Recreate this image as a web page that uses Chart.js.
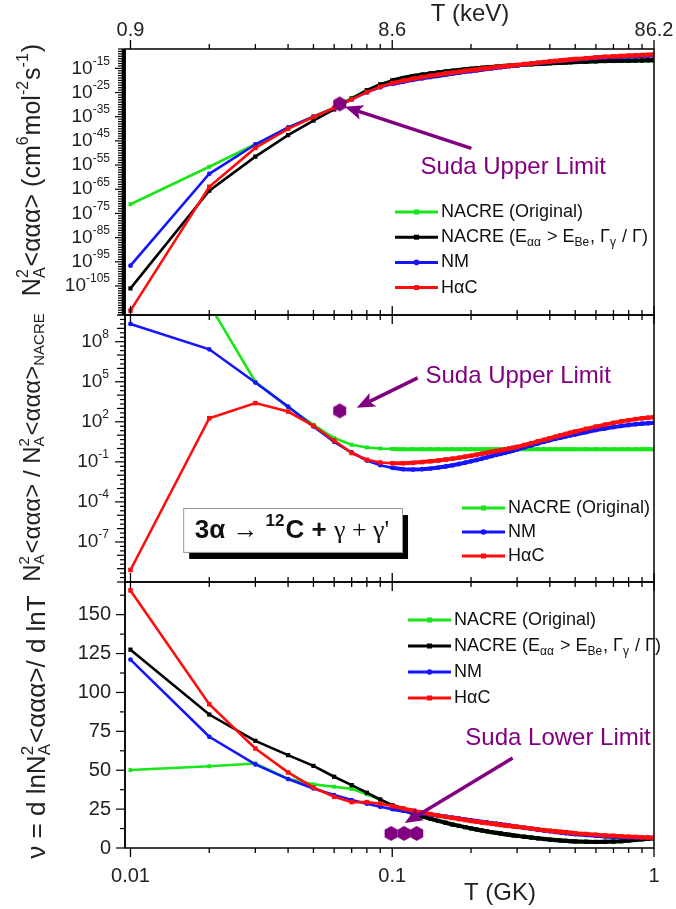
<!DOCTYPE html>
<html lang="en">
<head>
<meta charset="UTF-8">
<title>Triple-alpha rate</title>
<script src="https://cdn.jsdelivr.net/npm/chart.js@4.4.1/dist/chart.umd.min.js"></script>
<style>
  html, body { margin: 0; padding: 0; background: #fff; }
  #wrap { position: relative; width: 676px; height: 909px; }
  #wrap canvas { position: absolute; left: 0; top: 0; }
</style>
</head>
<body>
<div id="wrap">
  <canvas id="rateChart" width="676" height="909"></canvas>
  <canvas id="ratioChart" width="676" height="909"></canvas>
  <canvas id="nuChart" width="676" height="909"></canvas>
</div>
<script>
// temperature grid, T9 (GK)
const temps = [
  0.01, 0.02, 0.03, 0.04, 0.05, 0.06, 0.07, 0.08, 0.09, 0.10,
  0.11, 0.12, 0.13, 0.14, 0.15, 0.16, 0.17, 0.18, 0.19, 0.20,
  0.21, 0.22, 0.23, 0.24, 0.25, 0.26, 0.27, 0.28, 0.29, 0.30,
  0.32, 0.34, 0.36, 0.38, 0.40, 0.42, 0.44, 0.46, 0.48, 0.50,
  0.55, 0.60, 0.65, 0.70, 0.75, 0.80, 0.85, 0.90, 0.95, 1.00
];

// top panel: log10 of N_A^2<aaa> (cm^6 mol^-2 s^-1)
const rateNacreExp = [
  -71.2, -55.7, -46.4, -39.6, -34.9, -31.3, -27.2, -23.9, -21.6, -20.0,
  -19.0, -18.2, -17.6, -17.1, -16.7, -16.3, -16.0, -15.7, -15.4, -15.2,
  -15.0, -14.8, -14.6, -14.45, -14.3, -14.15, -14.0, -13.9, -13.8, -13.7,
  -13.5, -13.35, -13.2, -13.05, -12.9, -12.8, -12.7, -12.6, -12.5, -12.4,
  -12.25, -12.1, -12.0, -11.95, -11.9, -11.85, -11.8, -11.75, -11.7, -11.65
];
const rateNacreModExp = [
  -106.0, -65.6, -51.5, -42.6, -36.6, -32.0, -27.5, -24.0, -21.6, -20.0,
  -19.0, -18.2, -17.6, -17.1, -16.7, -16.3, -16.0, -15.7, -15.4, -15.2,
  -15.0, -14.8, -14.6, -14.45, -14.3, -14.15, -14.0, -13.9, -13.8, -13.7,
  -13.5, -13.35, -13.2, -13.05, -12.9, -12.8, -12.7, -12.6, -12.5, -12.4,
  -12.25, -12.1, -12.0, -11.95, -11.9, -11.85, -11.8, -11.75, -11.7, -11.65
];
const rateNmExp = [
  -96.6, -58.6, -46.5, -39.46, -34.95, -31.5, -27.8, -24.9, -22.85, -21.45,
  -20.55, -19.78, -19.15, -18.6, -18.13, -17.65, -17.26, -16.86, -16.46, -16.16,
  -15.86, -15.56, -15.26, -15.02, -14.78, -14.55, -14.32, -14.14, -13.96, -13.78,
  -13.42, -13.12, -12.83, -12.55, -12.28, -12.08, -11.89, -11.7, -11.52, -11.35,
  -11.03, -10.72, -10.5, -10.35, -10.21, -10.09, -9.99, -9.89, -9.81, -9.73
];
const rateHacExp = [
  -115.2, -64.0, -47.9, -40.0, -35.1, -31.4, -27.84, -24.84, -22.65, -21.1,
  -20.1, -19.27, -18.62, -18.06, -17.6, -17.13, -16.76, -16.39, -16.01, -15.74,
  -15.46, -15.19, -14.92, -14.7, -14.48, -14.27, -14.06, -13.9, -13.74, -13.58,
  -13.24, -12.95, -12.67, -12.4, -12.13, -11.92, -11.71, -11.51, -11.32, -11.13,
  -10.78, -10.46, -10.21, -10.03, -9.87, -9.73, -9.6, -9.49, -9.39, -9.3
];

// middle panel: log10 of the ratio to the NACRE rate
const ratioNacreExp = [
  34.8, 10.8, 5.0, 3.1, 1.78, 0.78, 0.28, 0.08, 0.0, -0.03,
  -0.05, -0.05, -0.05, -0.05, -0.05, -0.05, -0.05, -0.05, -0.05, -0.05,
  -0.05, -0.05, -0.05, -0.05, -0.05, -0.05, -0.05, -0.05, -0.05, -0.05,
  -0.05, -0.05, -0.05, -0.05, -0.05, -0.05, -0.05, -0.05, -0.05, -0.05,
  -0.05, -0.05, -0.05, -0.05, -0.05, -0.05, -0.05, -0.05, -0.05, -0.05
];
const ratioNmExp = [
  9.33, 7.43, 4.94, 3.14, 1.65, 0.5, -0.3, -0.9, -1.25, -1.45,
  -1.55, -1.58, -1.55, -1.5, -1.43, -1.35, -1.26, -1.16, -1.06, -0.96,
  -0.86, -0.76, -0.66, -0.57, -0.48, -0.4, -0.32, -0.24, -0.16, -0.08,
  0.08, 0.23, 0.37, 0.5, 0.62, 0.72, 0.81, 0.9, 0.98, 1.05,
  1.22, 1.38, 1.5, 1.6, 1.69, 1.76, 1.81, 1.86, 1.89, 1.92
];
const ratioHacExp = [
  -9.1, 2.27, 3.4, 2.77, 1.7, 0.6, -0.34, -0.84, -1.05, -1.1,
  -1.1, -1.07, -1.02, -0.96, -0.9, -0.83, -0.76, -0.69, -0.61, -0.54,
  -0.46, -0.39, -0.32, -0.25, -0.18, -0.12, -0.06, 0.0, 0.06, 0.12,
  0.26, 0.4, 0.53, 0.65, 0.77, 0.88, 0.99, 1.09, 1.18, 1.27,
  1.47, 1.64, 1.79, 1.92, 2.03, 2.12, 2.2, 2.26, 2.31, 2.35
];

// bottom panel: nu = d ln rate / d ln T
const nuNacre = [
  50.1, 52.6, 54.3, 44.5, 40.9, 39.4, 38.0, 34.5, 31.0, 27.5,
  24.6, 22.2, 20.3, 18.8, 17.4, 16.2, 15.1, 14.2, 13.4, 12.6,
  11.9, 11.3, 10.7, 10.2, 9.7, 9.3, 8.9, 8.5, 8.1, 7.8,
  7.2, 6.7, 6.2, 5.8, 5.4, 5.1, 4.8, 4.6, 4.4, 4.25,
  4.0, 3.9, 3.95, 4.1, 4.4, 4.8, 5.2, 5.6, 5.9, 6.2
];
const nuNacreMod = [
  127.5, 85.8, 68.9, 59.7, 52.8, 45.8, 40.4, 35.5, 31.2, 27.5,
  24.6, 22.2, 20.3, 18.8, 17.4, 16.2, 15.1, 14.2, 13.4, 12.6,
  11.9, 11.3, 10.7, 10.2, 9.7, 9.3, 8.9, 8.5, 8.1, 7.8,
  7.2, 6.7, 6.2, 5.8, 5.4, 5.1, 4.8, 4.6, 4.4, 4.25,
  4.0, 3.9, 3.95, 4.1, 4.4, 4.8, 5.2, 5.6, 5.9, 6.2
];
const nuNm = [
  121.1, 71.5, 53.7, 44.3, 38.3, 34.0, 30.8, 28.5, 26.5, 25.0,
  24.0, 23.0, 22.2, 21.5, 20.8, 20.1, 19.5, 18.9, 18.3, 17.8,
  17.3, 16.8, 16.4, 16.0, 15.6, 15.2, 14.8, 14.4, 14.0, 13.6,
  12.9, 12.3, 11.7, 11.2, 10.7, 10.3, 9.9, 9.5, 9.2, 8.9,
  8.3, 7.8, 7.4, 7.1, 6.9, 6.8, 6.7, 6.6, 6.6, 6.6
];
const nuHac = [
  165.6, 92.4, 64.0, 48.6, 38.9, 32.9, 29.5, 29.5, 28.5, 27.0,
  25.5, 24.0, 22.8, 21.8, 20.8, 20.0, 19.3, 18.6, 18.0, 17.4,
  16.9, 16.4, 16.0, 15.6, 15.2, 14.8, 14.5, 14.2, 13.9, 13.6,
  13.1, 12.5, 12.0, 11.5, 11.1, 10.7, 10.4, 10.1, 9.8, 9.5,
  9.0, 8.5, 8.1, 7.8, 7.5, 7.3, 7.1, 6.9, 6.7, 6.6
];

// Suda limits
const sudaUpperT = [0.063];
const sudaUpperRateExp = [-29.7];
const sudaUpperRatioExp = [2.82];
const sudaLowerT = [0.099, 0.111, 0.124];
const sudaLowerNu = [9.4, 9.4, 9.4];

// tick labels
const tempTickValues = [0.01, 0.1, 1];
const tempTickLabels = ['0.01', '0.1', '1'];
const keVTickLabels = ['0.9', '8.6', '86.2'];
const rateTickExps = [-15, -25, -35, -45, -55, -65, -75, -85, -95, -105];
const ratioTickExps = [8, 5, 2, -1, -4, -7];
const nuTicks = [0, 25, 50, 75, 100, 125, 150];

const W = 676, H = 909;
const PLOT_LEFT = 125, PLOT_RIGHT = 654;
const PANEL_TOP = [49, 315, 582], PANEL_BOTTOM = [315, 582, 848];
const X_MIN = 0.00953, X_MAX = 1;
const FONT = '"Liberation Sans", Arial, Helvetica, sans-serif';
const SERIF = '"Liberation Serif", "Times New Roman", serif';
const PURPLE = '#800080';

const STYLE = {
  nacre:    { color: '#19e619', shape: 'rect',   r: 2.8 },
  nacreMod: { color: '#000000', shape: 'rect',   r: 3.0 },
  nm:       { color: '#1414ff', shape: 'circle', r: 2.4 },
  hac:      { color: '#ff0d0d', shape: 'rect',   r: 3.2 }
};
const LEGEND_TEXT = {
  nacre: [{ t: 'NACRE (Original)' }],
  nacreMod: [{ t: 'NACRE (E' }, { sub: 'αα' }, { t: ' > E' }, { sub: 'Be' }, { t: ', Γ' }, { sub: 'γ' }, { t: ' / Γ)' }],
  nm: [{ t: 'NM' }],
  hac: [{ t: 'HαC' }]
};

function fontStr(size, weight, fam) {
  return (weight || 'normal') + ' ' + size + 'px ' + (fam || FONT);
}

// text with sub/superscripts; parts are {t}, {sup}, {sub} or {sub, sup}
function drawRich(ctx, parts, x, y, size, align, weight) {
  const small = Math.round(size * 0.64);
  const widths = parts.map(p => {
    if (p.t !== undefined) {
      ctx.font = fontStr(size, p.w || weight, p.f);
      return ctx.measureText(p.t).width;
    }
    ctx.font = fontStr(small, p.w || weight, p.f);
    return Math.max(p.sub ? ctx.measureText(p.sub).width : 0, p.sup ? ctx.measureText(p.sup).width : 0) + 1;
  });
  const total = widths.reduce((s, w) => s + w, 0);
  let cx = align === 'center' ? x - total / 2 : align === 'right' ? x - total : x;
  ctx.textAlign = 'left';
  ctx.textBaseline = 'middle';
  parts.forEach((p, i) => {
    if (p.t !== undefined) {
      ctx.font = fontStr(size, p.w || weight, p.f);
      ctx.fillText(p.t, cx, y);
    } else {
      ctx.font = fontStr(small, p.w || weight, p.f);
      if (p.sup) ctx.fillText(p.sup, cx, y - size * 0.36);
      if (p.sub) ctx.fillText(p.sub, cx, y + size * 0.3);
    }
    cx += widths[i];
  });
}

function line(ctx, x0, y0, x1, y1) {
  ctx.beginPath();
  ctx.moveTo(x0, y0);
  ctx.lineTo(x1, y1);
  ctx.stroke();
}

function arrow(ctx, x0, y0, x1, y1) {
  const ang = Math.atan2(y1 - y0, x1 - x0), head = 18, half = 7.5;
  const bx = x1 - head * Math.cos(ang), by = y1 - head * Math.sin(ang);
  ctx.strokeStyle = PURPLE;
  ctx.fillStyle = PURPLE;
  ctx.lineWidth = 3.5;
  line(ctx, x0, y0, bx + 4 * Math.cos(ang), by + 4 * Math.sin(ang));
  ctx.beginPath();
  ctx.moveTo(x1, y1);
  ctx.lineTo(bx - half * Math.sin(ang), by + half * Math.cos(ang));
  ctx.lineTo(bx + 4 * Math.cos(ang), by + 4 * Math.sin(ang));
  ctx.lineTo(bx + half * Math.sin(ang), by - half * Math.cos(ang));
  ctx.closePath();
  ctx.fill();
}

function hexagon(r) {
  const c = document.createElement('canvas');
  c.width = c.height = 2 * r + 2;
  const g = c.getContext('2d');
  g.fillStyle = PURPLE;
  g.beginPath();
  for (let i = 0; i < 6; i++) {
    const a = Math.PI / 2 + i * Math.PI / 3;
    const px = r + 1 + r * Math.cos(a), py = r + 1 - r * Math.sin(a);
    if (i) g.lineTo(px, py); else g.moveTo(px, py);
  }
  g.closePath();
  g.fill();
  return c;
}
const hexMark = hexagon(7.5);

const xTicks = [];
[0.01, 0.1].forEach(d => {
  for (let m = 1; m <= 9; m++) xTicks.push({ v: m * d, major: m === 1 });
});
xTicks.push({ v: 1, major: true });

const pow10 = e => Math.pow(10, e);

const panels = [
  {
    canvas: 'rateChart', idx: 0, log: true, yMin: -117, yMax: -7,
    series: [['hac', rateHacExp], ['nm', rateNmExp], ['nacreMod', rateNacreModExp], ['nacre', rateNacreExp]],
    suda: { t: sudaUpperT, y: sudaUpperRateExp },
    yTicks: () => {
      const out = [];
      for (let e = -117; e <= -7; e++) out.push({ v: pow10(e), len: rateTickExps.includes(e) ? 10 : 7 });
      return out;
    },
    yLabels: rateTickExps.map(e => ({ v: pow10(e), parts: [{ t: '10' }, { sup: String(e) }] })),
    labelRight: 111, labelSize: 19,
    title: [{ t: 'N' }, { sub: 'A', sup: '2' }, { t: '<ααα> (cm' }, { sup: '6' }, { t: 'mol' }, { sup: '-2' }, { t: 's' }, { sup: '-1' }, { t: ')' }],
    titleAt: [33, 170], titleSize: 25,
    legend: { x: 395, y: 212, dy: 25.2, keys: ['nacre', 'nacreMod', 'nm', 'hac'] },
    note: { text: 'Suda Upper Limit', at: [0.29, -55.8], from: [0.2006, -48.1], to: [0.0659, -30.9] },
    leftWidth: 4
  },
  {
    canvas: 'ratioChart', idx: 1, log: true, yMin: -10, yMax: 10,
    series: [['hac', ratioHacExp], ['nm', ratioNmExp], ['nacre', ratioNacreExp]],
    suda: { t: sudaUpperT, y: sudaUpperRatioExp },
    yTicks: () => {
      const out = [];
      for (let k = 0; k <= 60; k++) {
        const e = -10 + k / 3;
        out.push({ v: pow10(e), len: k % 3 ? 5 : (ratioTickExps.includes(Math.round(e)) ? 10 : 8) });
      }
      return out;
    },
    yLabels: ratioTickExps.map(e => ({ v: pow10(e), parts: [{ t: '10' }, { sup: String(e) }] })),
    labelRight: 110, labelSize: 19,
    title: [{ t: 'N' }, { sub: 'A', sup: '2' }, { t: '<ααα> / N' }, { sub: 'A', sup: '2' }, { t: '<ααα>' }, { sub: 'NACRE' }],
    titleAt: [33, 447], titleSize: 24,
    legend: { x: 462, y: 508, dy: 24, keys: ['nacre', 'nm', 'hac'] },
    note: { text: 'Suda Upper Limit', at: [0.3027, 5.44], from: [0.1251, 5.29], to: [0.0732, 3.05] },
    box: { from: [0.0159, -4.46], to: [0.109, -7.75], textAt: [0.0414, -6.18] },
    leftWidth: 1.5
  },
  {
    canvas: 'nuChart', idx: 2, log: false, yMin: 0, yMax: 171,
    series: [['hac', nuHac], ['nm', nuNm], ['nacreMod', nuNacreMod], ['nacre', nuNacre]],
    suda: { t: sudaLowerT, y: sudaLowerNu },
    yTicks: () => {
      const out = [];
      for (let v = 0; v <= 170; v += 12.5) out.push({ v, len: v % 25 ? 5 : 9 });
      return out;
    },
    yLabels: nuTicks.map(v => ({ v, parts: [{ t: String(v) }] })),
    labelRight: 111, labelSize: 20,
    title: [{ t: 'ν = d lnN' }, { sub: 'A', sup: '2' }, { t: '<ααα>/ d lnT' }],
    titleAt: [38, 727], titleSize: 26,
    legend: { x: 408, y: 620, dy: 26, keys: ['nacre', 'nacreMod', 'nm', 'hac'] },
    note: { text: 'Suda Lower Limit', at: [0.43, 70.6], from: [0.2884, 57.8], to: [0.1116, 16.0] },
    leftWidth: 1.5
  }
];

function decor(panel) {
  const yv = panel.log ? pow10 : (v => v);
  return {
    id: 'decor' + panel.idx,
    afterDraw(chart) {
      const { ctx, chartArea: a } = chart;
      const xs = chart.scales.x, ys = chart.scales.y;
      const px = t => xs.getPixelForValue(t);
      const py = v => ys.getPixelForValue(yv(v));
      ctx.save();

      // frame and ticks
      ctx.strokeStyle = '#000';
      ctx.lineWidth = 1.5;
      ctx.strokeRect(a.left, a.top, a.right - a.left, a.bottom - a.top);
      ctx.lineWidth = panel.leftWidth;
      line(ctx, a.left - panel.leftWidth / 2 + 0.75, a.top, a.left - panel.leftWidth / 2 + 0.75, a.bottom);
      ctx.lineWidth = 1.3;
      xTicks.forEach(tk => {
        const x = px(tk.v), len = tk.major ? 9 : 5;
        line(ctx, x, a.top, x, a.top - len);
        line(ctx, x, a.bottom, x, a.bottom + len);
      });
      ctx.lineWidth = 1.2;
      panel.yTicks().forEach(tk => {
        const y = ys.getPixelForValue(tk.v);
        line(ctx, a.left - tk.len, y, a.left, y);
      });

      // y tick labels
      ctx.fillStyle = '#222';
      panel.yLabels.forEach(l => drawRich(ctx, l.parts, panel.labelRight, ys.getPixelForValue(l.v), panel.labelSize, 'right'));

      // y title
      ctx.save();
      ctx.translate(panel.titleAt[0], panel.titleAt[1]);
      ctx.rotate(-Math.PI / 2);
      drawRich(ctx, panel.title, 0, 0, panel.titleSize, 'center');
      ctx.restore();

      // shared temperature axes
      if (panel.idx === 2) {
        tempTickValues.forEach((v, i) => drawRich(ctx, [{ t: tempTickLabels[i] }], px(v), 876, 20, 'center'));
        drawRich(ctx, [{ t: 'T (GK)' }], 500, 893, 24, 'center');
      }
      if (panel.idx === 0) {
        tempTickValues.forEach((v, i) => drawRich(ctx, [{ t: keVTickLabels[i] }], px(v), 30, 20, 'center'));
        drawRich(ctx, [{ t: 'T (keV)' }], 470, 14, 24, 'center');
      }

      // reaction box
      if (panel.box) {
        const b = panel.box;
        const x0 = px(b.from[0]), y0 = py(b.from[1]), x1 = px(b.to[0]), y1 = py(b.to[1]);
        ctx.fillStyle = '#000';
        ctx.fillRect(x0 + 6, y0 + 7, x1 - x0, y1 - y0);
        ctx.fillStyle = '#fff';
        ctx.fillRect(x0, y0, x1 - x0, y1 - y0);
        ctx.strokeStyle = '#999';
        ctx.lineWidth = 1;
        ctx.strokeRect(x0 + 0.5, y0 + 0.5, x1 - x0, y1 - y0);
        ctx.fillStyle = '#111';
        drawRich(ctx, [
          { t: '3α ', w: 'bold' }, { t: '→ ' }, { sup: '12', w: 'bold' }, { t: 'C + ', w: 'bold' },
          { t: 'γ + γ\'', f: SERIF }
        ], px(b.textAt[0]), py(b.textAt[1]), 26, 'center');
      }

      // legend
      const lg = panel.legend;
      lg.keys.forEach((k, i) => {
        const y = lg.y + i * lg.dy, st = STYLE[k];
        ctx.strokeStyle = st.color;
        ctx.fillStyle = st.color;
        ctx.lineWidth = 3;
        line(ctx, lg.x, y, lg.x + 43, y);
        if (st.shape === 'circle') {
          ctx.beginPath();
          ctx.arc(lg.x + 21.5, y, 2.8, 0, 2 * Math.PI);
          ctx.fill();
        } else {
          ctx.fillRect(lg.x + 19, y - 2.5, 5, 5);
        }
        ctx.fillStyle = '#111';
        drawRich(ctx, LEGEND_TEXT[k], lg.x + 46, y, 18, 'left');
      });

      // Suda annotation
      const n = panel.note;
      arrow(ctx, px(n.from[0]), py(n.from[1]), px(n.to[0]), py(n.to[1]));
      ctx.fillStyle = PURPLE;
      drawRich(ctx, [{ t: n.text }], px(n.at[0]), py(n.at[1]), 24, 'center');
      ctx.restore();
    }
  };
}

panels.forEach(panel => {
  const yv = panel.log ? pow10 : (v => v);
  const datasets = [{
    label: 'Suda',
    data: panel.suda.t.map((t, i) => ({ x: t, y: yv(panel.suda.y[i]) })),
    showLine: false,
    pointStyle: hexMark,
    pointRadius: 7,
    borderColor: PURPLE,
    backgroundColor: PURPLE
  }].concat(panel.series.map(([key, vals]) => ({
    label: key,
    data: temps.map((t, i) => ({ x: t, y: yv(vals[i]) })),
    borderColor: STYLE[key].color,
    backgroundColor: STYLE[key].color,
    borderWidth: 2.6,
    // the densely sampled high-temperature part reads as a thicker band
    segment: { borderWidth: c => (c.p0.parsed.x >= 0.095 ? 4 : 2.6) },
    pointStyle: STYLE[key].shape,
    pointRadius: STYLE[key].r,
    pointBorderWidth: 0,
    tension: 0
  })));

  new Chart(document.getElementById(panel.canvas), {
    type: 'line',
    data: { datasets },
    options: {
      responsive: false,
      animation: false,
      devicePixelRatio: 1,
      events: [],
      layout: {
        padding: {
          top: PANEL_TOP[panel.idx],
          bottom: H - PANEL_BOTTOM[panel.idx],
          left: PLOT_LEFT,
          right: W - PLOT_RIGHT
        }
      },
      plugins: { legend: { display: false }, tooltip: { enabled: false } },
      scales: {
        x: { type: 'logarithmic', display: false, min: X_MIN, max: X_MAX },
        y: panel.log
          ? { type: 'logarithmic', display: false, min: pow10(panel.yMin), max: pow10(panel.yMax) }
          : { type: 'linear', display: false, min: panel.yMin, max: panel.yMax }
      }
    },
    plugins: [decor(panel)]
  });
});
</script>
</body>
</html>
